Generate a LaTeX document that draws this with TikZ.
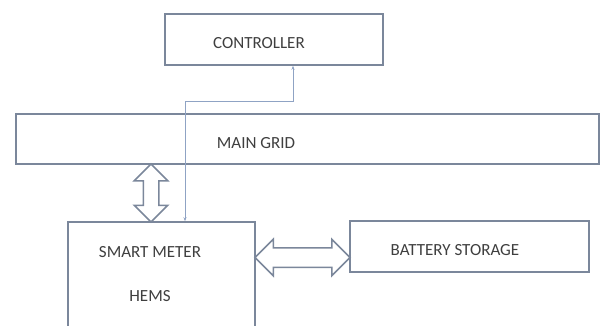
\documentclass[tikz,border=0pt]{standalone}
\usepackage{fontspec}
\setmainfont{Carlito}
\usepackage{tikz}
\usetikzlibrary{arrows.meta,shapes.arrows,positioning,calc}
\definecolor{boxc}{HTML}{7B879B}
\definecolor{lnkc}{HTML}{8FA3C4}
\definecolor{txtc}{HTML}{3F3F3F}

\begin{document}
\begin{tikzpicture}[x=1pt, y=-1pt,
    blk/.style={draw=boxc, line width=1.5pt, fill=white, inner sep=0pt},
    txt/.style={text=txtc, font=\fontsize{17}{20}\selectfont, inner sep=0pt},
    dblarr/.style={double arrow, draw=boxc, line width=1.5pt, fill=white, double arrow tip angle=90},
    lnk/.style={{Stealth[length=4pt]}-{Stealth[length=4pt]}, draw=lnkc, line width=0.8pt}
]
\useasboundingbox (0,0) rectangle (600,325);
\node[blk, minimum width=218pt, minimum height=51pt,
      label={[txt, xshift=-15pt, yshift=-3.5pt]center:CONTROLLER}] (ctrl) at (274,39.5) {};
\node[blk, minimum width=583pt, minimum height=50pt,
      label={[txt, xshift=-51.5pt, yshift=-4pt]center:MAIN GRID}] (grid) at (307.5,139) {};
\node[blk, minimum width=187pt, minimum height=105pt,
      label={[txt, align=center, xshift=-11.5pt]center:{SMART METER\\[24pt]HEMS}}] (meter) at (161.5,274.5) {};
\node[blk, minimum width=239pt, minimum height=51pt,
      label={[txt, xshift=-14.5pt, yshift=-3.5pt]center:BATTERY STORAGE}] (batt) at (469.5,246.5) {};

\node[dblarr, rotate=90, minimum height=58pt, inner sep=7pt, double arrow head extend=9pt] (gridmeter) at (151,193) {};
\node[dblarr, minimum height=95pt, inner sep=9pt, double arrow head extend=8.5pt] (meterbatt) at (302.5,257.5) {};

\draw[lnk] ([xshift=19pt]ctrl.south) -- ++(0,36) -| ([xshift=23.5pt]meter.north);
\end{tikzpicture}
\end{document}
